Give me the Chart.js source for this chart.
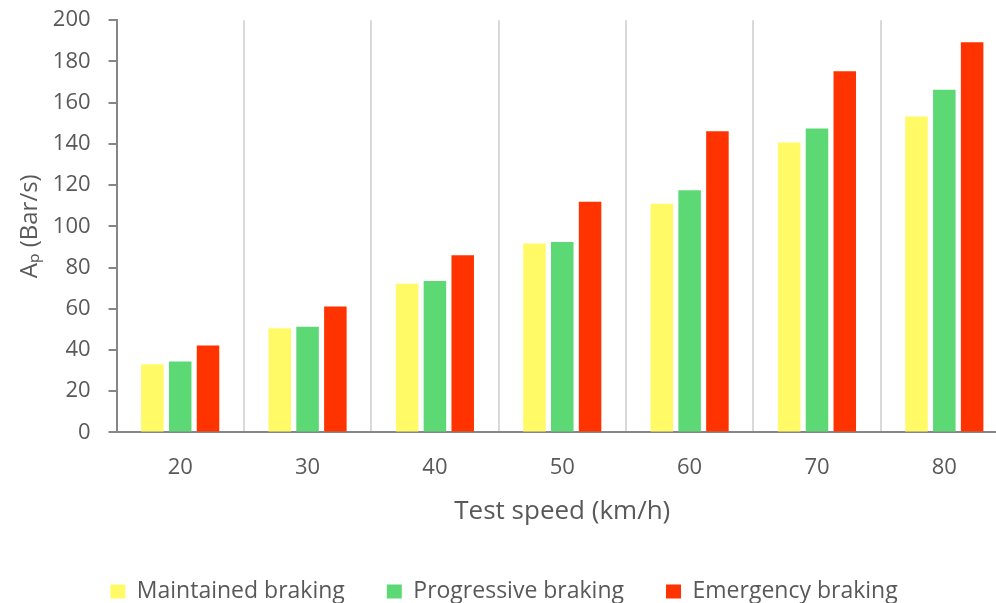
<!DOCTYPE html>
<html>
<head>
<meta charset="utf-8">
<script src="https://cdn.jsdelivr.net/npm/chart.js@4"></script>
<style>
  html, body { margin: 0; padding: 0; background: #fff; overflow: hidden; }
  #wrap { width: 1010px; height: 614px; margin-top: -11px; }
</style>
</head>
<body>
<div id="wrap"><canvas id="brakingChart" width="1010" height="614"></canvas></div>
<script>
// Test speeds (km/h)
var speeds = ['20', '30', '40', '50', '60', '70', '80'];

// A_p values (Bar/s)
var maintained = [33.1, 50.5, 72.1, 91.6, 111, 140.6, 153.3];
var progressive = [34.4, 51.3, 73.5, 92.4, 117.5, 147.4, 166.3];
var emergency = [42.2, 61.1, 86, 111.9, 146.1, 175.2, 189.3];

var yTicks = [0, 20, 40, 60, 80, 100, 120, 140, 160, 180, 200];

var textColor = '#595959';
var axisColor = '#868686';
var fontFamily = '"Open Sans", "DejaVu Sans", sans-serif';

var ctx = document.getElementById('brakingChart').getContext('2d');
var brakingChart = new Chart(ctx, {
    type: 'bar',
    data: {
        labels: speeds,
        datasets: [{
            label: 'Maintained braking',
            data: maintained,
            backgroundColor: '#fffa66'
        }, {
            label: 'Progressive braking',
            data: progressive,
            backgroundColor: '#5cd975'
        }, {
            label: 'Emergency braking',
            data: emergency,
            backgroundColor: '#ff3300'
        }]
    },
    options: {
        responsive: false,
        animation: false,
        categoryPercentage: 0.655,
        barPercentage: 0.81,
        layout: {
            padding: { left: 0, right: 2, top: 0, bottom: -10 }
        },
        plugins: {
            legend: {
                position: 'bottom',
                labels: {
                    color: textColor,
                    font: { family: fontFamily, size: 23 },
                    boxWidth: 15,
                    boxHeight: 14,
                    padding: 42
                }
            },
            tooltip: { enabled: false }
        },
        scales: {
            x: {
                grid: {
                    offset: true,
                    color: '#d9d9d9',
                    lineWidth: 2,
                    drawTicks: false
                },
                border: { color: axisColor, width: 2 },
                ticks: {
                    color: textColor,
                    font: { family: fontFamily, size: 22 },
                    padding: 22
                },
                title: {
                    display: true,
                    text: 'Test speed (km/h)',
                    color: textColor,
                    font: { family: fontFamily, size: 26 },
                    padding: { top: -7, bottom: 11 }
                }
            },
            y: {
                min: 0,
                max: 200,
                afterBuildTicks: function (axis) {
                    axis.ticks = yTicks.map(function (v) { return { value: v }; });
                },
                grid: {
                    drawOnChartArea: false,
                    drawTicks: true,
                    tickLength: 8,
                    color: axisColor,
                    lineWidth: 2
                },
                border: { color: axisColor, width: 2 },
                ticks: {
                    color: textColor,
                    font: { family: fontFamily, size: 22 },
                    padding: 18
                },
                title: {
                    display: true,
                    text: 'A\u209A (Bar/s)',
                    color: textColor,
                    font: { family: fontFamily, size: 24 },
                    padding: { top: 16, bottom: -10 }
                }
            }
        }
    }
});
</script>
</body>
</html>
